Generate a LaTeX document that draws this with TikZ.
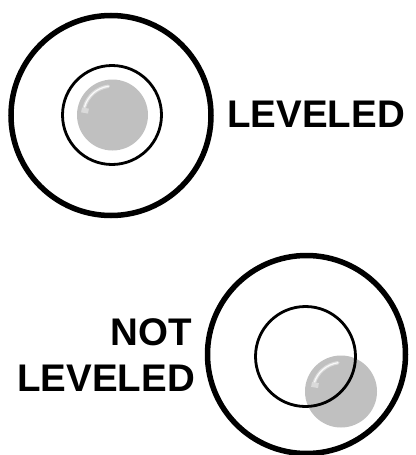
\documentclass[tikz,border=0pt]{standalone}
\usepackage{fontspec}
\setmainfont{Liberation Sans}
\definecolor{ballgray}{RGB}{192,192,192}
\definecolor{hilite}{RGB}{218,218,218}
\tikzset{
  outerring/.style={draw=black, line width=5.5pt},
  innerring/.style={draw=black, line width=2.8pt},
  ball/.style={fill=ballgray},
  label/.style={font=\fontsize{38.5}{46}\selectfont\bfseries, inner sep=0pt, text=black},
  shine/.style={draw=hilite, line width=3.5pt, line cap=round},
  shinecore/.style={draw=white!85!hilite, line width=1.2pt, line cap=round},
}
\begin{document}
\begin{tikzpicture}[x=1pt,y=-1pt]
\useasboundingbox (0,0) rectangle (415,455);
\fill[white] (0,0) rectangle (415,455);
% ---- top (leveled) ----
\coordinate (tc) at (111,115.5);
\coordinate (tb) at (112.5,115);
\fill[ball] (tb) circle[radius=35.5];
\draw[shine] ([shift={(-28,-8)}]tb) arc[start angle=196, end angle=262, radius=29];
\draw[shinecore] ([shift={(-28,-8)}]tb) arc[start angle=196, end angle=262, radius=29];
\fill[hilite, rotate around={-10:(85,110.5)}] (81.5,108) rectangle (88.5,113);
\draw[innerring] (112,115) circle[radius=49.5];
\draw[outerring] (tc) circle[radius=100];
\node[label, anchor=west] (lev1) at (227.2,114) {LEVELED};
% ---- bottom (not leveled) ----
\coordinate (bc) at (306.5,354.5);
\coordinate (bb) at (341,391.5);
\fill[ball] (bb) circle[radius=36];
\draw[shine] ([shift={(-27,-8)}]bb) arc[start angle=196, end angle=262, radius=29];
\draw[shinecore] ([shift={(-27,-8)}]bb) arc[start angle=196, end angle=262, radius=29];
\fill[hilite, rotate around={-10:(315,385)}] (311.5,382.5) rectangle (318.5,387.5);
\draw[innerring] (305.5,356.5) circle[radius=50];
\draw[outerring] (bc) circle[radius=99];
\node[label, anchor=east] (not) at (192,332) {NOT};
\node[label, anchor=east] (lev2) at (195,378.5) {LEVELED};
\end{tikzpicture}
\end{document}
